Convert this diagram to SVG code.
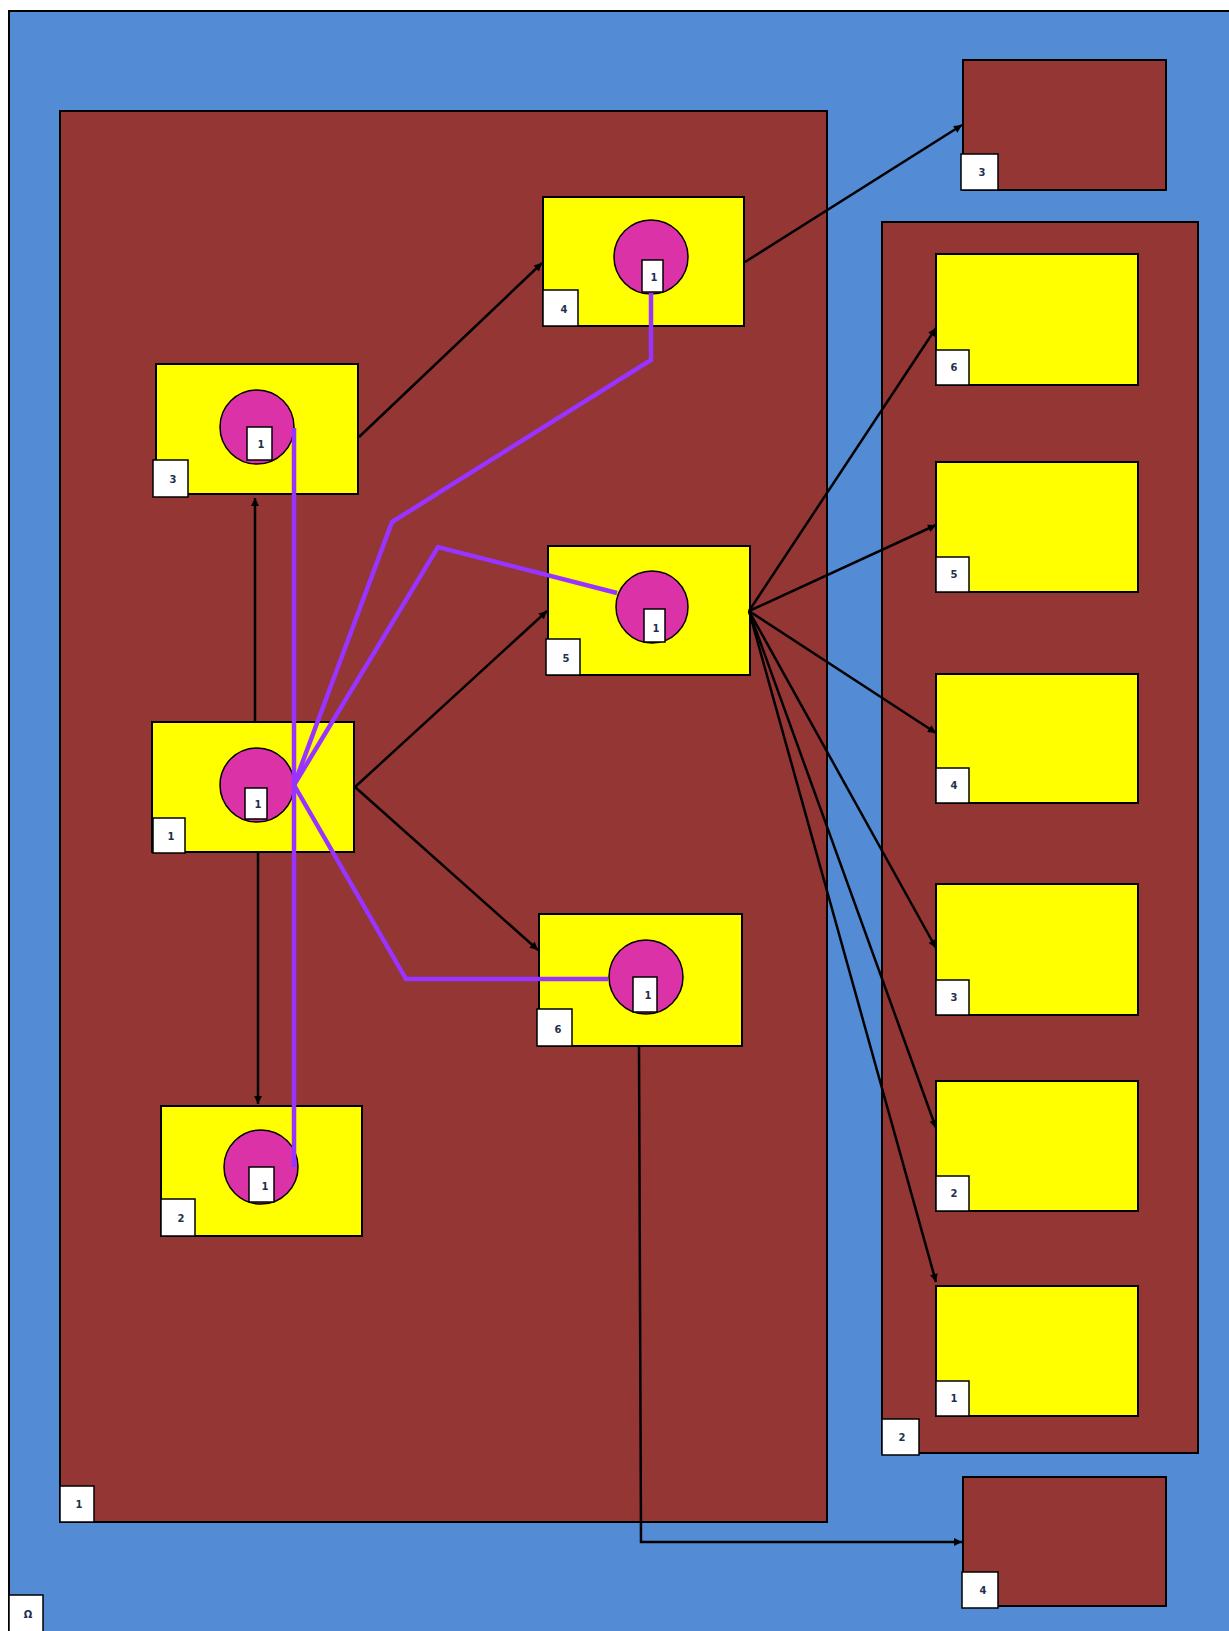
<svg xmlns="http://www.w3.org/2000/svg" width="1229" height="1631" viewBox="0 0 1229 1631">
  <style>
    .omega { fill: #538CD5; stroke: #000; stroke-width: 2; }
    .box { fill: #943634; stroke: #000; stroke-width: 2; }
    .part { fill: #FFFF00; stroke: #000; stroke-width: 2; }
    .port { fill: #DB32A8; stroke: #000; stroke-width: 1.5; }
    .tag { fill: #FFFFFF; stroke: #000; stroke-width: 1.5; }
    .tag-text { font-family: "DejaVu Sans", "Liberation Sans", sans-serif; font-size: 10px; font-weight: bold; fill: #1F2F4F; text-anchor: middle; dominant-baseline: central; }
    .edge { fill: none; stroke: #000; stroke-width: 2.5; }
    .link { fill: none; stroke: #9933FF; stroke-width: 4.5; stroke-linejoin: miter; }
  </style>
  <defs>
    <marker id="arrow" viewBox="0 0 10 10" refX="10" refY="5" markerWidth="10" markerHeight="8" markerUnits="userSpaceOnUse" orient="auto">
      <path d="M0,0 L10,5 L0,10 z" fill="#000"/>
    </marker>
  </defs>

  <rect x="0" y="0" width="1229" height="1631" fill="#FFFFFF"/>

  <!-- outer region -->
  <g id="omega">
    <rect class="omega" x="9" y="11" width="1240" height="1640"/>
    <rect class="tag" x="9" y="1595" width="34" height="40"/>
    <text class="tag-text" x="28" y="1614">Ω</text>
  </g>

  <!-- container 1 -->
  <g id="container-1">
    <rect class="box" x="60" y="111" width="767" height="1411"/>
    <rect class="tag" x="60" y="1486" width="34" height="36"/>
    <text class="tag-text" x="79" y="1504">1</text>
  </g>

  <!-- container 2 -->
  <g id="container-2">
    <rect class="box" x="882" y="222" width="316" height="1231"/>
    <rect class="tag" x="882" y="1419" width="37" height="36"/>
    <text class="tag-text" x="902" y="1437">2</text>
  </g>

  <!-- standalone box 3 -->
  <g id="box-3">
    <rect class="box" x="963" y="60" width="203" height="130"/>
    <rect class="tag" x="961" y="154" width="37" height="36"/>
    <text class="tag-text" x="982" y="172">3</text>
  </g>

  <!-- standalone box 4 -->
  <g id="box-4">
    <rect class="box" x="963" y="1477" width="203" height="129"/>
    <rect class="tag" x="962" y="1572" width="36" height="36"/>
    <text class="tag-text" x="983" y="1590">4</text>
  </g>

  <!-- parts inside container 2 -->
  <g id="c2-part-6">
    <rect class="part" x="936" y="254" width="202" height="131"/>
    <rect class="tag" x="936" y="350" width="33" height="35"/>
    <text class="tag-text" x="954" y="367">6</text>
  </g>
  <g id="c2-part-5">
    <rect class="part" x="936" y="462" width="202" height="130"/>
    <rect class="tag" x="936" y="557" width="33" height="35"/>
    <text class="tag-text" x="954" y="574">5</text>
  </g>
  <g id="c2-part-4">
    <rect class="part" x="936" y="674" width="202" height="129"/>
    <rect class="tag" x="936" y="768" width="33" height="35"/>
    <text class="tag-text" x="954" y="785">4</text>
  </g>
  <g id="c2-part-3">
    <rect class="part" x="936" y="884" width="202" height="131"/>
    <rect class="tag" x="936" y="980" width="33" height="35"/>
    <text class="tag-text" x="954" y="997">3</text>
  </g>
  <g id="c2-part-2">
    <rect class="part" x="936" y="1081" width="202" height="130"/>
    <rect class="tag" x="936" y="1176" width="33" height="35"/>
    <text class="tag-text" x="954" y="1193">2</text>
  </g>
  <g id="c2-part-1">
    <rect class="part" x="936" y="1286" width="202" height="130"/>
    <rect class="tag" x="936" y="1381" width="33" height="35"/>
    <text class="tag-text" x="954" y="1398">1</text>
  </g>

  <!-- parts inside container 1 -->
  <g id="c1-part-3">
    <rect class="part" x="156" y="364" width="202" height="130"/>
    <circle class="port" cx="257" cy="427" r="37"/>
    <rect class="tag" x="247" y="427" width="25" height="33"/>
    <text class="tag-text" x="261" y="444">1</text>
    <rect class="tag" x="153" y="460" width="35" height="37"/>
    <text class="tag-text" x="173" y="479">3</text>
  </g>
  <g id="c1-part-1">
    <rect class="part" x="152" y="722" width="202" height="130"/>
    <circle class="port" cx="257" cy="785" r="37"/>
    <rect class="tag" x="245" y="788" width="22" height="31"/>
    <text class="tag-text" x="258" y="804">1</text>
    <rect class="tag" x="153" y="818" width="32" height="35"/>
    <text class="tag-text" x="171" y="836">1</text>
  </g>
  <g id="c1-part-2">
    <rect class="part" x="161" y="1106" width="201" height="130"/>
    <circle class="port" cx="261" cy="1167" r="37"/>
    <rect class="tag" x="249" y="1167" width="25" height="35"/>
    <text class="tag-text" x="265" y="1186">1</text>
    <rect class="tag" x="161" y="1199" width="34" height="37"/>
    <text class="tag-text" x="181" y="1218">2</text>
  </g>
  <g id="c1-part-4">
    <rect class="part" x="543" y="197" width="201" height="129"/>
    <circle class="port" cx="651" cy="257" r="37"/>
    <rect class="tag" x="642" y="260" width="21" height="32"/>
    <text class="tag-text" x="654" y="277">1</text>
    <rect class="tag" x="543" y="290" width="35" height="36"/>
    <text class="tag-text" x="564" y="309">4</text>
  </g>
  <g id="c1-part-5">
    <rect class="part" x="548" y="546" width="202" height="129"/>
    <circle class="port" cx="652" cy="607" r="36"/>
    <rect class="tag" x="644" y="609" width="21" height="33"/>
    <text class="tag-text" x="656" y="628">1</text>
    <rect class="tag" x="546" y="639" width="34" height="36"/>
    <text class="tag-text" x="566" y="658">5</text>
  </g>
  <g id="c1-part-6">
    <rect class="part" x="539" y="914" width="203" height="132"/>
    <circle class="port" cx="646" cy="977" r="37"/>
    <rect class="tag" x="633" y="977" width="24" height="35"/>
    <text class="tag-text" x="648" y="995">1</text>
    <rect class="tag" x="537" y="1009" width="35" height="37"/>
    <text class="tag-text" x="558" y="1029">6</text>
  </g>

  <!-- connectors -->
  <g id="connectors">
    <path class="edge" d="M359,437 L542,263" marker-end="url(#arrow)"/>
    <path class="edge" d="M745,262 L962,125" marker-end="url(#arrow)"/>
    <path class="edge" d="M255,722 L255,498" marker-end="url(#arrow)"/>
    <path class="edge" d="M258,852 L258,1104" marker-end="url(#arrow)"/>
    <path class="edge" d="M355,787 L547,611" marker-end="url(#arrow)"/>
    <path class="edge" d="M355,787 L538,950" marker-end="url(#arrow)"/>
    <path class="edge" d="M749,611 L936,328" marker-end="url(#arrow)"/>
    <path class="edge" d="M749,611 L936,525" marker-end="url(#arrow)"/>
    <path class="edge" d="M749,611 L936,733" marker-end="url(#arrow)"/>
    <path class="edge" d="M749,611 L936,948" marker-end="url(#arrow)"/>
    <path class="edge" d="M749,611 L936,1128" marker-end="url(#arrow)"/>
    <path class="edge" d="M749,611 L936,1282" marker-end="url(#arrow)"/>
    <path class="edge" d="M639,1046 L641,1542 L962,1542" marker-end="url(#arrow)"/>

    <!-- port links -->
    <path class="link" d="M294,428 L294,1167"/>
    <path class="link" d="M294,785 L392,522 L651,360 L651,293"/>
    <path class="link" d="M294,785 L438,547 L617,593"/>
    <path class="link" d="M294,785 L406,979 L608,979"/>
  </g>
</svg>
